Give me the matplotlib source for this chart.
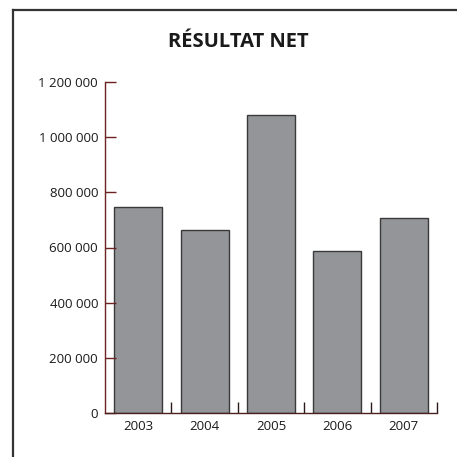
import matplotlib
matplotlib.use("Agg")
import matplotlib.pyplot as plt
from matplotlib.lines import Line2D
from matplotlib.ticker import FuncFormatter, FixedLocator

years = ["2003", "2004", "2005", "2006", "2007"]
values = [748000, 665000, 1080000, 587000, 706000]
yticks = [0, 200000, 400000, 600000, 800000, 1000000, 1200000]
title = "RÉSULTAT NET"

plt.rcParams['font.family'] = ['Open Sans', 'DejaVu Sans']

W = H = 457
fig = plt.figure(figsize=(W / 100, H / 100), dpi=100)
fig.patch.set_facecolor("white")

ax = fig.add_axes([105 / W, 1 - 413 / H, (437 - 105) / W, (413 - 82) / H])
x = list(range(len(years)))
ax.bar(x, values, width=0.72, color="#939598", edgecolor="#3a3a3a", linewidth=1.0)

ax.set_xlim(-0.5, len(years) - 0.5)
ax.set_ylim(0, 1200000)

spine_col = "#6e2222"
for s in ["top", "right"]:
    ax.spines[s].set_visible(False)
ax.spines["left"].set_color(spine_col)
ax.spines["bottom"].set_color("#4a2020")
ax.spines["left"].set_linewidth(1.0)
ax.spines["bottom"].set_linewidth(1.0)

ax.set_yticks(yticks)
ax.yaxis.set_major_formatter(FuncFormatter(lambda v, p: f"{int(v):,}".replace(",", " ")))
ax.tick_params(axis="y", direction="in", length=8, width=1.0, color=spine_col,
               labelsize=9.5, pad=5, labelcolor="#1a1a1a")

ax.set_xticks(x)
ax.set_xticklabels(years)
ax.tick_params(axis="x", which="major", length=0, labelsize=9.5, pad=5, labelcolor="#1a1a1a")
ax.xaxis.set_minor_locator(FixedLocator([i + 0.5 for i in range(len(years))]))
ax.tick_params(axis="x", which="minor", direction="in", length=8, width=1.0, color="#2a1a1a")

fig.text(238 / W, 1 - 42 / H, title, ha="center", va="center",
         fontsize=14.5, fontweight="bold", color="#1a1a1a")

# frame lines (top and left)
fig.add_artist(Line2D([13 / W, 1.0], [1 - 10 / H, 1 - 10 / H], transform=fig.transFigure,
                      color="#333333", linewidth=1.6))
fig.add_artist(Line2D([13 / W, 13 / W], [1 - 10 / H, 0.0], transform=fig.transFigure,
                      color="#333333", linewidth=1.6))

fig.savefig("out.png", dpi=100)
